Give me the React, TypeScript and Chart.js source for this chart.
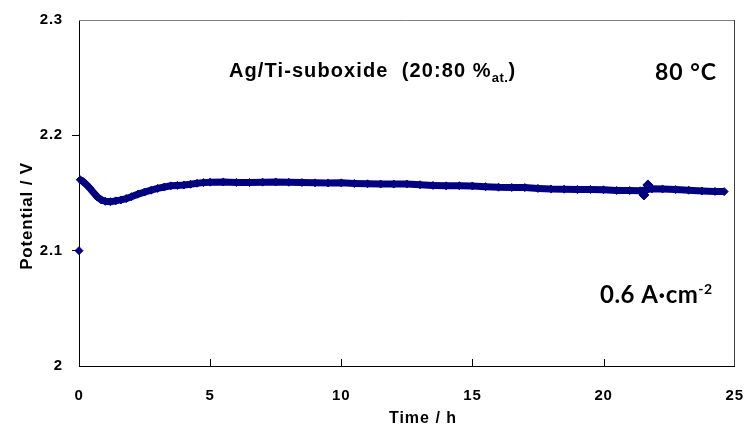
import { useEffect, useRef } from "react";
import { Chart, registerables } from "chart.js";

Chart.register(...registerables);

// ---- data ----
const timeH = [
  0.05, 0.15, 0.25, 0.4, 0.55, 0.7, 0.85, 1.0, 1.2, 1.4, 1.6, 1.8, 2.0, 2.25, 2.5, 2.75,
  3.0, 3.25, 3.5, 3.75, 4.0, 4.25, 4.5, 4.75, 5.0, 5.5, 6.0, 6.5, 7.0, 7.5, 8.0, 8.5,
  9.0, 9.5, 10.0, 10.5, 11.0, 11.5, 12.0, 12.5, 13.0, 13.5, 14.0, 14.5, 15.0, 15.5,
  16.0, 16.5, 17.0, 17.5, 18.0, 18.5, 19.0, 19.5, 20.0, 20.5, 21.0, 21.4, 21.85, 22.25,
  22.75, 23.25, 23.75, 24.25, 24.6,
];
const potentialV = [
  2.1615, 2.16, 2.158, 2.1545, 2.1505, 2.1465, 2.144, 2.1428, 2.1425, 2.1432, 2.144, 2.1452,
  2.1468, 2.149, 2.1508, 2.1524, 2.154, 2.1552, 2.1562, 2.1566, 2.157, 2.1576, 2.1584, 2.159,
  2.1594, 2.1596, 2.1592, 2.1591, 2.1594, 2.1596, 2.1593, 2.159, 2.1588, 2.1587, 2.1588,
  2.1583, 2.158, 2.1578, 2.1577, 2.1578, 2.1572, 2.1566, 2.1562, 2.1563, 2.1561, 2.1555,
  2.155, 2.1548, 2.1547, 2.154, 2.1535, 2.1533, 2.153, 2.1531, 2.1528, 2.1522, 2.1521,
  2.1519, 2.1536, 2.1535, 2.153, 2.1524, 2.1518, 2.1514, 2.1512,
];
const firstPointT = [0];
const firstPointV = [2.1];
const glitchT = [21.54, 21.69];
const glitchV = [2.1483, 2.157];

const xTicks = [0, 5, 10, 15, 20, 25];
const yTicks = [2, 2.1, 2.2, 2.3];

const NAVY = "#000080";
const SANS = "'Liberation Sans', Arial, sans-serif";
const CAL = "Lato, 'Open Sans', sans-serif";

function toPts(xs: number[], ys: number[]) {
  return xs.map((x, i) => ({ x, y: ys[i] }));
}

function spaced(ctx: CanvasRenderingContext2D, text: string, x: number, y: number, font: string, sp: number) {
  ctx.font = font;
  (ctx as any).letterSpacing = sp + "px";
  ctx.fillText(text, x, y);
  return x + ctx.measureText(text).width;
}

const decorPlugin = {
  id: "decor",
  beforeDraw(chart: any) {
    (chart.ctx as any).letterSpacing = "0.8px";
  },
  beforeDatasetsDraw(chart: any) {
    const ctx = chart.ctx as CanvasRenderingContext2D;
    const a = chart.chartArea;
    const xs = chart.scales.x;
    ctx.save();
    ctx.lineWidth = 1;
    ctx.strokeStyle = "#808080";
    ctx.beginPath();
    ctx.moveTo(a.left, Math.round(a.top) + 0.5);
    ctx.lineTo(a.right, Math.round(a.top) + 0.5);
    ctx.stroke();
    ctx.strokeStyle = "#404040";
    ctx.beginPath();
    ctx.moveTo(Math.round(a.right) - 0.5, a.top);
    ctx.lineTo(Math.round(a.right) - 0.5, a.bottom);
    ctx.stroke();
    ctx.strokeStyle = "#000";
    xTicks.slice(1, -1).forEach((v) => {
      const px = Math.round(xs.getPixelForValue(v)) + 0.5;
      ctx.beginPath();
      ctx.moveTo(px, a.bottom);
      ctx.lineTo(px, a.bottom - 7);
      ctx.stroke();
    });
    ctx.restore();
  },
  afterDraw(chart: any) {
    const ctx = chart.ctx as CanvasRenderingContext2D;
    ctx.save();
    ctx.fillStyle = "#000";
    ctx.textBaseline = "alphabetic";
    ctx.textAlign = "left";
    let x = spaced(ctx, "Ag/Ti-suboxide  (20:80 %", 229, 77, `bold 20px ${SANS}`, 1.1);
    x = spaced(ctx, "at.", x, 82, `bold 13px ${SANS}`, 0.5);
    spaced(ctx, ")", x, 77, `bold 20px ${SANS}`, 1.1);
    spaced(ctx, "80 °C", 655, 80, `bold 23px ${CAL}`, 1);
    x = spaced(ctx, "0.6 A·cm", 600, 303, `bold 24px ${CAL}`, 0.5);
    spaced(ctx, "-2", x, 294, `bold 14px ${CAL}`, 0.5);
    ctx.textAlign = "center";
    spaced(ctx, "Time / h", 423, 423, `bold 16px ${SANS}`, 1);
    ctx.translate(32, 216);
    ctx.rotate(-Math.PI / 2);
    spaced(ctx, "Potential / V", 0, 0, `bold 17px ${SANS}`, 0.8);
    ctx.restore();
  },
};

export default function App() {
  const ref = useRef<HTMLCanvasElement | null>(null);
  useEffect(() => {
    if (!ref.current) return;
    const chart = new Chart(ref.current, {
      type: "scatter",
      data: {
        datasets: [
          {
            data: toPts(timeH, potentialV),
            showLine: true,
            borderColor: NAVY,
            backgroundColor: NAVY,
            borderWidth: 7,
            pointStyle: "rectRot",
            pointRadius: 4,
            pointBorderWidth: 1,
            pointBorderColor: NAVY,
            pointBackgroundColor: NAVY,
            clip: false as any,
          },
          {
            data: toPts(glitchT, glitchV),
            showLine: false,
            pointStyle: "rectRot",
            pointRadius: 5,
            pointBorderColor: NAVY,
            pointBackgroundColor: NAVY,
            clip: false as any,
          },
          {
            data: toPts(firstPointT, firstPointV),
            showLine: false,
            pointStyle: "rectRot",
            pointRadius: 4,
            pointBorderColor: NAVY,
            pointBackgroundColor: NAVY,
            clip: false as any,
          },
        ],
      },
      options: {
        responsive: false,
        animation: false,
        layout: { padding: { left: 0, right: 13, top: 20, bottom: 0 } },
        plugins: { legend: { display: false }, tooltip: { enabled: false } },
        scales: {
          x: {
            type: "linear",
            min: xTicks[0],
            max: xTicks[xTicks.length - 1],
            afterBuildTicks: (s: any) => {
              s.ticks = xTicks.map((v) => ({ value: v }));
            },
            afterFit: (s: any) => {
              s.height = 61;
            },
            grid: { display: false },
            border: { display: true, color: "#000", width: 1 },
            ticks: {
              padding: 13,
              color: "#000",
              font: { family: SANS, size: 15, weight: "bold" },
              callback: (v: any) => String(v),
            },
          },
          y: {
            type: "linear",
            min: yTicks[0],
            max: yTicks[yTicks.length - 1],
            afterBuildTicks: (s: any) => {
              s.ticks = yTicks.map((v) => ({ value: v }));
            },
            afterFit: (s: any) => {
              s.width = 79;
            },
            grid: {
              display: true,
              drawOnChartArea: false,
              drawTicks: true,
              tickLength: 7,
              color: (c: any) =>
                c.tick && (c.tick.value === yTicks[0] || c.tick.value === yTicks[yTicks.length - 1])
                  ? "rgba(0,0,0,0)"
                  : "#000",
            },
            border: { display: true, color: "#000", width: 1 },
            ticks: {
              padding: 9,
              color: "#000",
              font: { family: SANS, size: 15, weight: "bold" },
              callback: (v: any) => String(Number(Number(v).toFixed(1))),
            },
          },
        },
      },
      plugins: [decorPlugin],
    });
    return () => chart.destroy();
  }, []);
  return (
    <div style={{ position: "fixed", left: 0, top: 0, width: 756, height: 427, background: "#fff" }}>
      <canvas ref={ref} width={756} height={427} />
    </div>
  );
}
